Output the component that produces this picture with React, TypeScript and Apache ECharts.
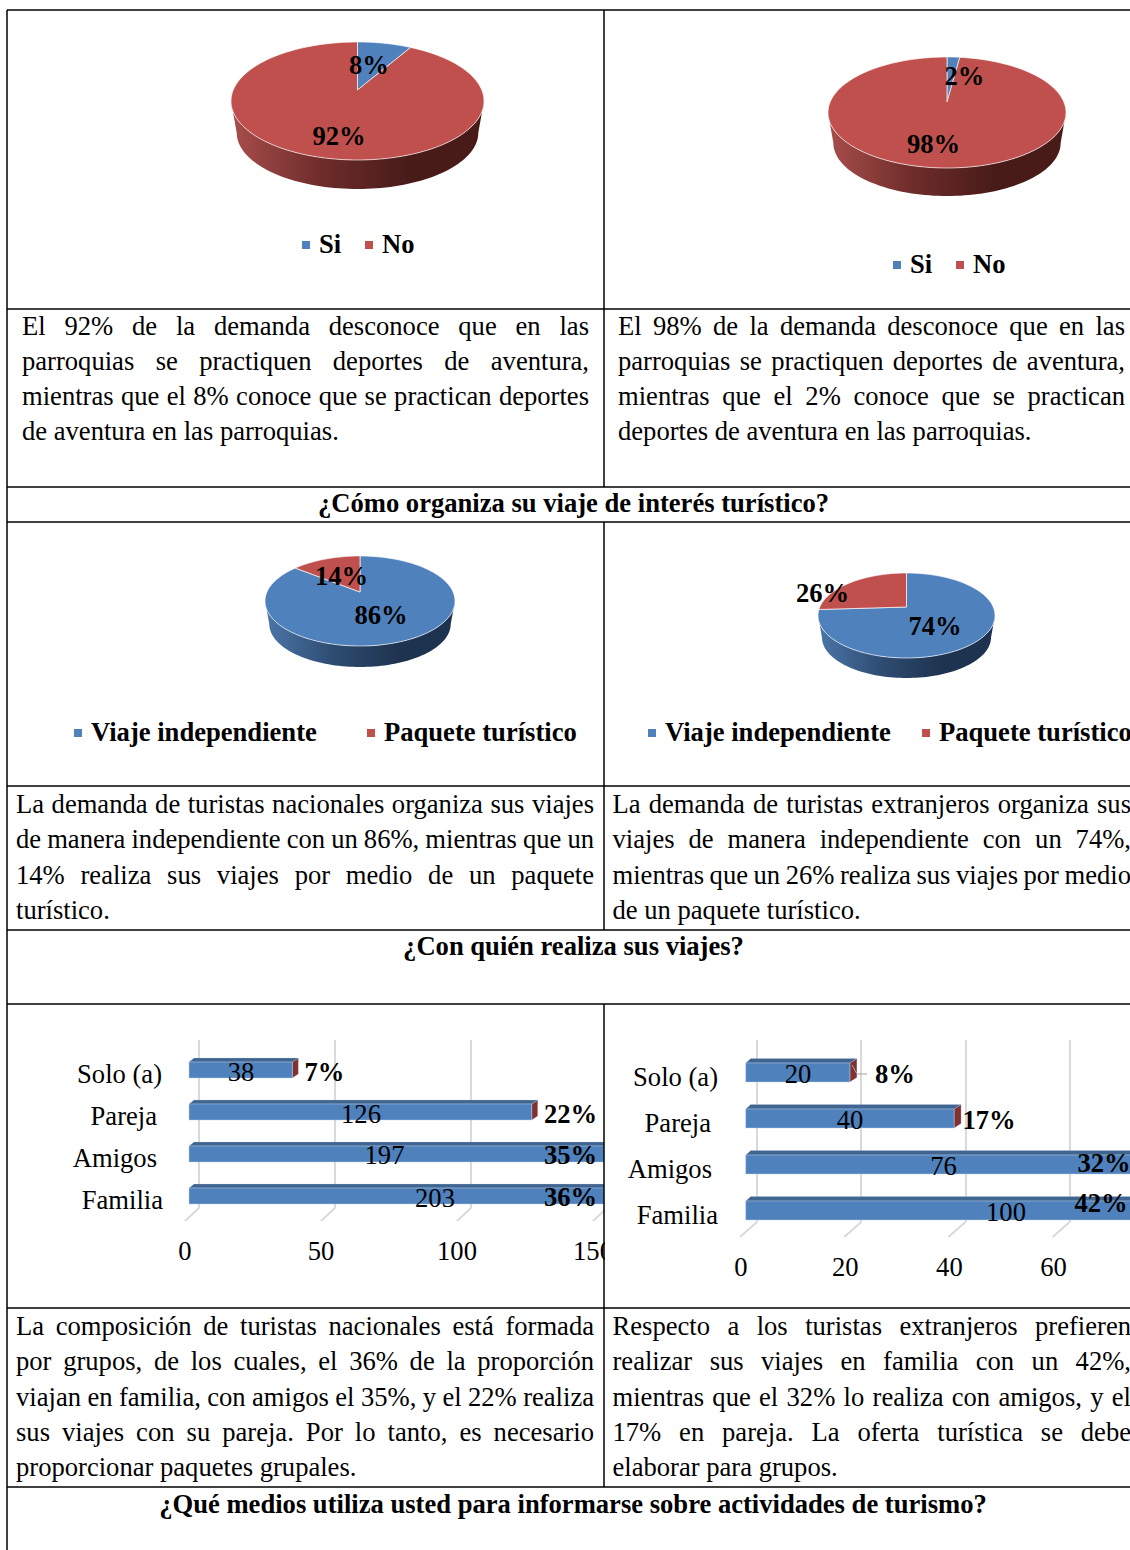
import React, { useEffect, useRef } from "react";
import * as echarts from "echarts";

// ---------- data ----------
const pieNames1 = ["Si", "No"];
const pieValues1 = [8, 92];
const pieValues2 = [2, 98];
const pieNames2 = ["Viaje independiente", "Paquete turístico"];
const pieValues3 = [86, 14];
const pieValues4 = [74, 26];

const barCategories = ["Solo (a)", "Pareja", "Amigos", "Familia"];
const barValues1 = [38, 126, 197, 203];
const barPercents1 = [7, 22, 35, 36];
const barValues2 = [20, 40, 76, 100];
const barPercents2 = [8, 17, 32, 42];
const axisTicks1 = [0, 50, 100, 150];
const axisTicks2 = [0, 20, 40, 60];

const titles = [
  "¿Cómo organiza su viaje de interés turístico?",
  "¿Con quién realiza sus viajes?",
  "¿Qué medios utiliza usted para informarse sobre actividades de turismo?",
];

const para1L = [
  "El 92% de la demanda desconoce que en las",
  "parroquias se practiquen deportes de aventura,",
  "mientras que el 8% conoce que se practican deportes",
  "de aventura en las parroquias.",
];
const para1R = [
  "El 98% de la demanda desconoce que en las",
  "parroquias se practiquen deportes de aventura,",
  "mientras que el 2% conoce que se practican",
  "deportes de aventura en las parroquias.",
];
const para2L = [
  "La demanda de turistas nacionales organiza sus viajes",
  "de manera independiente con un 86%, mientras que un",
  "14% realiza sus viajes por medio de un paquete",
  "turístico.",
];
const para2R = [
  "La demanda de turistas extranjeros organiza sus",
  "viajes de manera independiente con un 74%,",
  "mientras que un 26% realiza sus viajes por medio",
  "de un paquete turístico.",
];
const para3L = [
  "La composición de turistas nacionales está formada",
  "por grupos, de los cuales, el 36% de la proporción",
  "viajan en familia, con amigos el 35%, y el 22% realiza",
  "sus viajes con su pareja. Por lo tanto, es necesario",
  "proporcionar paquetes grupales.",
];
const para3R = [
  "Respecto a los turistas extranjeros prefieren",
  "realizar sus viajes en familia con un 42%,",
  "mientras que el 32% lo realiza con amigos, y el",
  "17% en pareja. La oferta turística se debe",
  "elaborar para grupos.",
];

// ---------- styling & layout ----------
const FAMILY = '"Liberation Serif", "Times New Roman", serif';
const SIZE = 26.6;
const FONT = `${SIZE}px ${FAMILY}`;
const BOLD = `bold ${SIZE}px ${FAMILY}`;
const BLUE = "#4f81bd";
const RED = "#c0504d";
const sideFill: Record<string, string[]> = {
  [BLUE]: ["#4b76a8", "#2f4d73", "#1e3350"],
  [RED]: ["#a84e4b", "#6f2d2b", "#481b19"],
};

const measure = (() => {
  const ctx = document.createElement("canvas").getContext("2d")!;
  return (t: string, font: string) => {
    ctx.font = font;
    return ctx.measureText(t).width;
  };
})();

function textEl(text: string, x: number, y: number, font = FONT, align = "left", z = 20) {
  return {
    type: "text",
    z,
    x,
    y: y - 0.8,
    style: { text, font, fill: "#000", align, verticalAlign: "middle" },
  };
}

function paragraph(lines: string[], left: number, right: number, ys: number[]) {
  const out: any[] = [];
  lines.forEach((line, i) => {
    const words = line.split(" ");
    const isLast = i === lines.length - 1;
    const widths = words.map((w) => measure(w, FONT));
    const total = widths.reduce((a, b) => a + b, 0);
    const gap = isLast ? measure(" ", FONT) : (right - left - total) / (words.length - 1);
    let x = left;
    words.forEach((w, k) => {
      out.push(textEl(w, x, ys[i]));
      x += widths[k] + gap;
    });
  });
  return out;
}

function pieSeries(cfg: any) {
  const { values, names, colors, cx, cy, rx, ry, apexY, depth, labels, legendItems, legendY } = cfg;
  const total = values.reduce((a: number, b: number) => a + b, 0);
  const a = apexY - cy;
  // where the ray from the apex, at true angle theta, meets the ellipse (parameter t)
  const rimParam = (theta: number) => {
    const dx = 1.06 * rx * Math.sin(theta);
    const dy = -ry * Math.cos(theta);
    const A = (dx / rx) ** 2 + (dy / ry) ** 2;
    const B = (2 * a * dy) / (ry * ry);
    const C = (a / ry) ** 2 - 1;
    const s = (-B + Math.sqrt(B * B - 4 * A * C)) / (2 * A);
    const px = dx * s;
    const py = a + dy * s;
    let t = Math.atan2(px / rx, -py / ry);
    if (t < -1e-6) t += Math.PI * 2;
    return t;
  };
  const rim = (t: number) => [cx + rx * Math.sin(t), cy - ry * Math.cos(t)];
  // the lower edge of the wall is slightly narrower: perspective
  const rimLow = (t: number) => [cx + rx * 0.955 * Math.sin(t), cy - ry * 0.955 * Math.cos(t) + depth + ry * 0.045];
  return {
    type: "custom",
    coordinateSystem: "none",
    data: values,
    silent: true,
    renderItem: (params: any) => {
      const i = params.dataIndex;
      const before = values.slice(0, i).reduce((p: number, q: number) => p + q, 0);
      const th0 = (before / total) * Math.PI * 2;
      const th1 = ((before + values[i]) / total) * Math.PI * 2;
      const t0 = i === 0 ? 0 : rimParam(th0);
      const t1 = i === values.length - 1 ? Math.PI * 2 : rimParam(th1);
      const color = colors[i];
      const children: any[] = [];
      // front wall of the disc
      const f0 = Math.max(t0, Math.PI / 2);
      const f1 = Math.min(t1, (Math.PI * 3) / 2);
      if (f1 > f0) {
        const pts: number[][] = [];
        const N = 80;
        for (let k = 0; k <= N; k++) pts.push(rim(f0 + ((f1 - f0) * k) / N));
        for (let k = N; k >= 0; k--) pts.push(rimLow(f0 + ((f1 - f0) * k) / N));
        children.push({
          type: "polygon",
          z2: 1,
          shape: { points: pts },
          style: {
            fill: new echarts.graphic.LinearGradient(1, 0, 0, 0, [
              { offset: 0, color: sideFill[color][2] },
              { offset: 0.3, color: sideFill[color][2] },
              { offset: 0.65, color: sideFill[color][1] },
              { offset: 1, color: sideFill[color][0] },
            ]),
          },
        });
      }
      // top face
      const top: number[][] = [[cx, apexY]];
      const N2 = 160;
      for (let k = 0; k <= N2; k++) top.push(rim(t0 + ((t1 - t0) * k) / N2));
      children.push({
        type: "polygon",
        z2: 2,
        shape: { points: top },
        style: { fill: color, stroke: "rgba(255,255,255,0.65)", lineWidth: 1 },
      });
      // value label
      const lab = labels[i];
      children.push({
        type: "text",
        z2: 10,
        x: lab[0],
        y: lab[1],
        style: { text: `${values[i]}%`, font: BOLD, fill: "#000", align: "center", verticalAlign: "middle" },
      });
      // legend
      const lx = legendItems[i];
      children.push({
        type: "rect",
        z2: 5,
        shape: { x: lx - 17, y: legendY - 4, width: 8, height: 8 },
        style: { fill: color },
      });
      children.push({
        type: "text",
        z2: 10,
        x: lx,
        y: legendY - 1,
        style: { text: names[i], font: BOLD, fill: "#000", align: "left", verticalAlign: "middle" },
      });
      return { type: "group", children };
    },
  };
}

function barSeries(cfg: any) {
  const { values, percents, gridIndex, frontDx, barH, topH, topDx, capW, clipX, valueX, pctX, barShift, valueDy, pctDy } = cfg;
  return {
    type: "custom",
    xAxisIndex: gridIndex,
    yAxisIndex: gridIndex,
    silent: true,
    clip: false,
    encode: { x: 0, y: 1 },
    data: values.map((v: number, i: number) => [v, i]),
    renderItem: (params: any, api: any) => {
      const i = params.dataIndex;
      const p0 = api.coord([0, i]);
      const p1 = api.coord([api.value(0), i]);
      const lim = (x: number) => Math.min(x, clipX);
      const x0 = p0[0] + frontDx;
      const x1 = p1[0] + frontDx;
      const yc = p0[1] + barShift;
      const yT = yc - barH / 2;
      const yB = yc + barH / 2;
      const children: any[] = [];
      if (x1 < clipX) {
        children.push({
          type: "polygon",
          z2: 3,
          shape: { points: [[x1, yT], [x1 + capW, yT - topH], [x1 + capW, yB - topH], [x1, yB]] },
          style: { fill: "#7f3230", stroke: "rgba(220,230,245,0.5)", lineWidth: 0.5 },
        });
      }
      children.push({
        type: "polygon",
        z2: 3,
        shape: { points: [[x0, yT], [x0 + topDx, yT - topH], [lim(x1 + capW), yT - topH], [lim(x1), yT]] },
        style: { fill: "#3f6590", stroke: "rgba(190,210,235,0.5)", lineWidth: 0.5 },
      });
      children.push({
        type: "rect",
        z2: 4,
        shape: { x: x0, y: yT, width: lim(x1) - x0, height: barH },
        style: { fill: BLUE, stroke: "rgba(190,210,235,0.6)", lineWidth: 0.75 },
      });
      children.push({
        type: "text",
        z2: 10,
        x: valueX[i],
        y: yc + valueDy[i],
        style: { text: String(values[i]), font: FONT, fill: "#000", align: "center", verticalAlign: "middle" },
      });
      children.push({
        type: "text",
        z2: 10,
        x: pctX[i],
        y: yc + pctDy[i],
        style: { text: `${percents[i]}%`, font: BOLD, fill: "#000", align: "center", verticalAlign: "middle" },
      });
      return { type: "group", children };
    },
  };
}

function floorSeries(ticks: number[], gridIndex: number, dx: number, dy: number) {
  return {
    type: "custom",
    xAxisIndex: gridIndex,
    yAxisIndex: gridIndex,
    silent: true,
    clip: false,
    encode: { x: 0, y: 1 },
    data: ticks.map((t) => [t, 0]),
    renderItem: (_p: any, api: any) => {
      const p = api.coord([api.value(0), 0]);
      return {
        type: "line",
        shape: { x1: p[0], y1: p[1], x2: p[0] + dx, y2: p[1] + dy },
        style: { stroke: "#d9d9d9", lineWidth: 2 },
      };
    },
  };
}

function wallAxes(min: number, max: number, interval: number, gridIndex: number) {
  return {
    x: {
      type: "value",
      gridIndex,
      min,
      max,
      interval,
      axisLine: { show: false },
      axisTick: { show: false },
      axisLabel: { show: false },
      splitLine: { show: true, lineStyle: { color: "#d9d9d9", width: 2 } },
    },
    y: {
      type: "value",
      gridIndex,
      min: 0,
      max: 1,
      axisLine: { show: false },
      axisTick: { show: false },
      axisLabel: { show: false },
      splitLine: { show: false },
    },
  };
}

function labelAxes(min: number, max: number, interval: number, gridIndex: number, margin: number, yMargin: number, pads: number[]) {
  const rich: any = {};
  pads.forEach((p, i) => {
    rich[`c${i}`] = { font: FONT, fontFamily: FAMILY, fontSize: SIZE, color: "#000", padding: [0, p, 0, 0] };
  });
  return {
    x: {
      type: "value",
      gridIndex,
      min,
      max,
      interval,
      axisLine: { show: false },
      axisTick: { show: false },
      splitLine: { show: false },
      axisLabel: { margin, fontFamily: FAMILY, fontSize: SIZE, color: "#000", hideOverlap: false },
    },
    y: {
      type: "category",
      gridIndex,
      inverse: true,
      data: barCategories,
      axisLine: { show: false },
      axisTick: { show: false },
      splitLine: { show: false },
      axisLabel: {
        margin: yMargin,
        align: "right",
        rich,
        formatter: (v: string, i: number) => `{c${i}|${v}}`,
      },
    },
  };
}

function tableLines() {
  const L = 7;
  const M = 604;
  const R = 1130;
  const hy = [10, 309, 487, 522, 786, 930, 1004, 1308, 1487];
  const vm = [
    [10, 487],
    [522, 930],
    [1004, 1487],
  ];
  const seg = (x1: number, y1: number, x2: number, y2: number) => ({
    type: "line",
    z: 60,
    shape: { x1, y1, x2, y2 },
    style: { stroke: "#000", lineWidth: 1.5 },
  });
  return [
    seg(L, 10, L, 1550),
    ...vm.map(([a, b]) => seg(M, a, M, b)),
    ...hy.map((y) => seg(L, y, R, y)),
  ];
}

export default function App() {
  const ref = useRef<HTMLDivElement>(null);
  useEffect(() => {
    const chart = echarts.init(ref.current!, null, { renderer: "svg" });
    const w1 = wallAxes(0, 150, 50, 0);
    const l1 = labelAxes(0, 150, 50, 1, 16, 22, [1, 6, 6, 0]);
    const w2 = wallAxes(0, 60, 20, 2);
    const l2 = labelAxes(0, 60, 20, 3, 15, 23, [0, 7, 6, 0]);

    chart.setOption({
      animation: false,
      backgroundColor: "#fff",
      grid: [
        { left: 199, top: 1040, width: 408, height: 168 },
        { left: 185, top: 1053, width: 408, height: 168 },
        { left: 757, top: 1040, width: 312.6, height: 182 },
        { left: 741, top: 1054, width: 312.6, height: 184 },
      ],
      xAxis: [w1.x, l1.x, w2.x, l2.x],
      yAxis: [w1.y, l1.y, w2.y, l2.y],
      series: [
        pieSeries({
          values: pieValues1, names: pieNames1, colors: [BLUE, RED],
          cx: 357.5, cy: 101, rx: 126.5, ry: 59, apexY: 90, depth: 29,
          labels: [[369, 65], [339, 136]], legendItems: [319, 382], legendY: 245,
        }),
        pieSeries({
          values: pieValues2, names: pieNames1, colors: [BLUE, RED],
          cx: 947, cy: 112.5, rx: 119, ry: 55.5, apexY: 102, depth: 28,
          labels: [[964.5, 76], [933.5, 144]], legendItems: [910, 973], legendY: 265,
        }),
        pieSeries({
          values: pieValues3, names: pieNames2, colors: [BLUE, RED],
          cx: 360, cy: 601, rx: 95, ry: 45, apexY: 592, depth: 21,
          labels: [[381, 615], [341.5, 576]], legendItems: [91, 384], legendY: 733,
        }),
        pieSeries({
          values: pieValues4, names: pieNames2, colors: [BLUE, RED],
          cx: 906.5, cy: 615.5, rx: 88.5, ry: 42.5, apexY: 607, depth: 20,
          labels: [[935, 626], [822.5, 593]], legendItems: [665, 939], legendY: 733,
        }),
        floorSeries(axisTicks1, 0, -14, 13),
        floorSeries(axisTicks2, 2, -17, 15),
        barSeries({
          values: barValues1, percents: barPercents1, gridIndex: 1,
          frontDx: 4, barH: 16, topH: 4, topDx: 5, capW: 6, clipX: 604, barShift: -4,
          valueX: [241, 361, 384.5, 435], valueDy: [2, 2, 0.5, 1.5],
          pctX: [324.5, 570.5, 570.5, 570.5], pctDy: [2, 2, 1, 1],
        }),
        barSeries({
          values: barValues2, percents: barPercents2, gridIndex: 3,
          frontDx: 4.7, barH: 19, topH: 4.5, topDx: 5, capW: 7, clipX: 1140, barShift: -4.5,
          valueX: [798, 850, 943.5, 1006], valueDy: [1.5, 1.5, 1.5, 1.5],
          pctX: [895, 989, 1104, 1101], pctDy: [1.5, 1.5, -2, -8],
        }),
      ],
      graphic: {
        elements: [
          { type: "rect", z: 50, shape: { x: 605, y: 1006, width: 22, height: 300 }, style: { fill: "#fff" } },
          {
            type: "polyline",
            z: 30,
            shape: { points: [[852, 1065], [857, 1074], [867, 1074]] },
            style: { stroke: "#a6a6a6", lineWidth: 1, fill: "none" },
          },
          ...tableLines(),
          textEl(titles[0], 573.5, 504, BOLD, "center"),
          textEl(titles[1], 573.5, 947, BOLD, "center"),
          textEl(titles[2], 573, 1505, BOLD, "center"),
          ...paragraph(para1L, 22, 589, [327, 362, 397, 432]),
          ...paragraph(para1R, 618, 1125, [327, 362, 397, 432]),
          ...paragraph(para2L, 16, 594, [805, 840, 876, 911]),
          ...paragraph(para2R, 612.5, 1131, [805, 840, 876, 911]),
          ...paragraph(para3L, 16, 594, [1327, 1362, 1398, 1433, 1468]),
          ...paragraph(para3R, 612.5, 1131, [1327, 1362, 1398, 1433, 1468]),
        ],
      },
    });
    return () => chart.dispose();
  }, []);
  return (
    <div
      ref={ref}
      style={{ position: "absolute", left: 0, top: 0, width: 1130, height: 1550, background: "#fff", overflow: "hidden" }}
    />
  );
}
